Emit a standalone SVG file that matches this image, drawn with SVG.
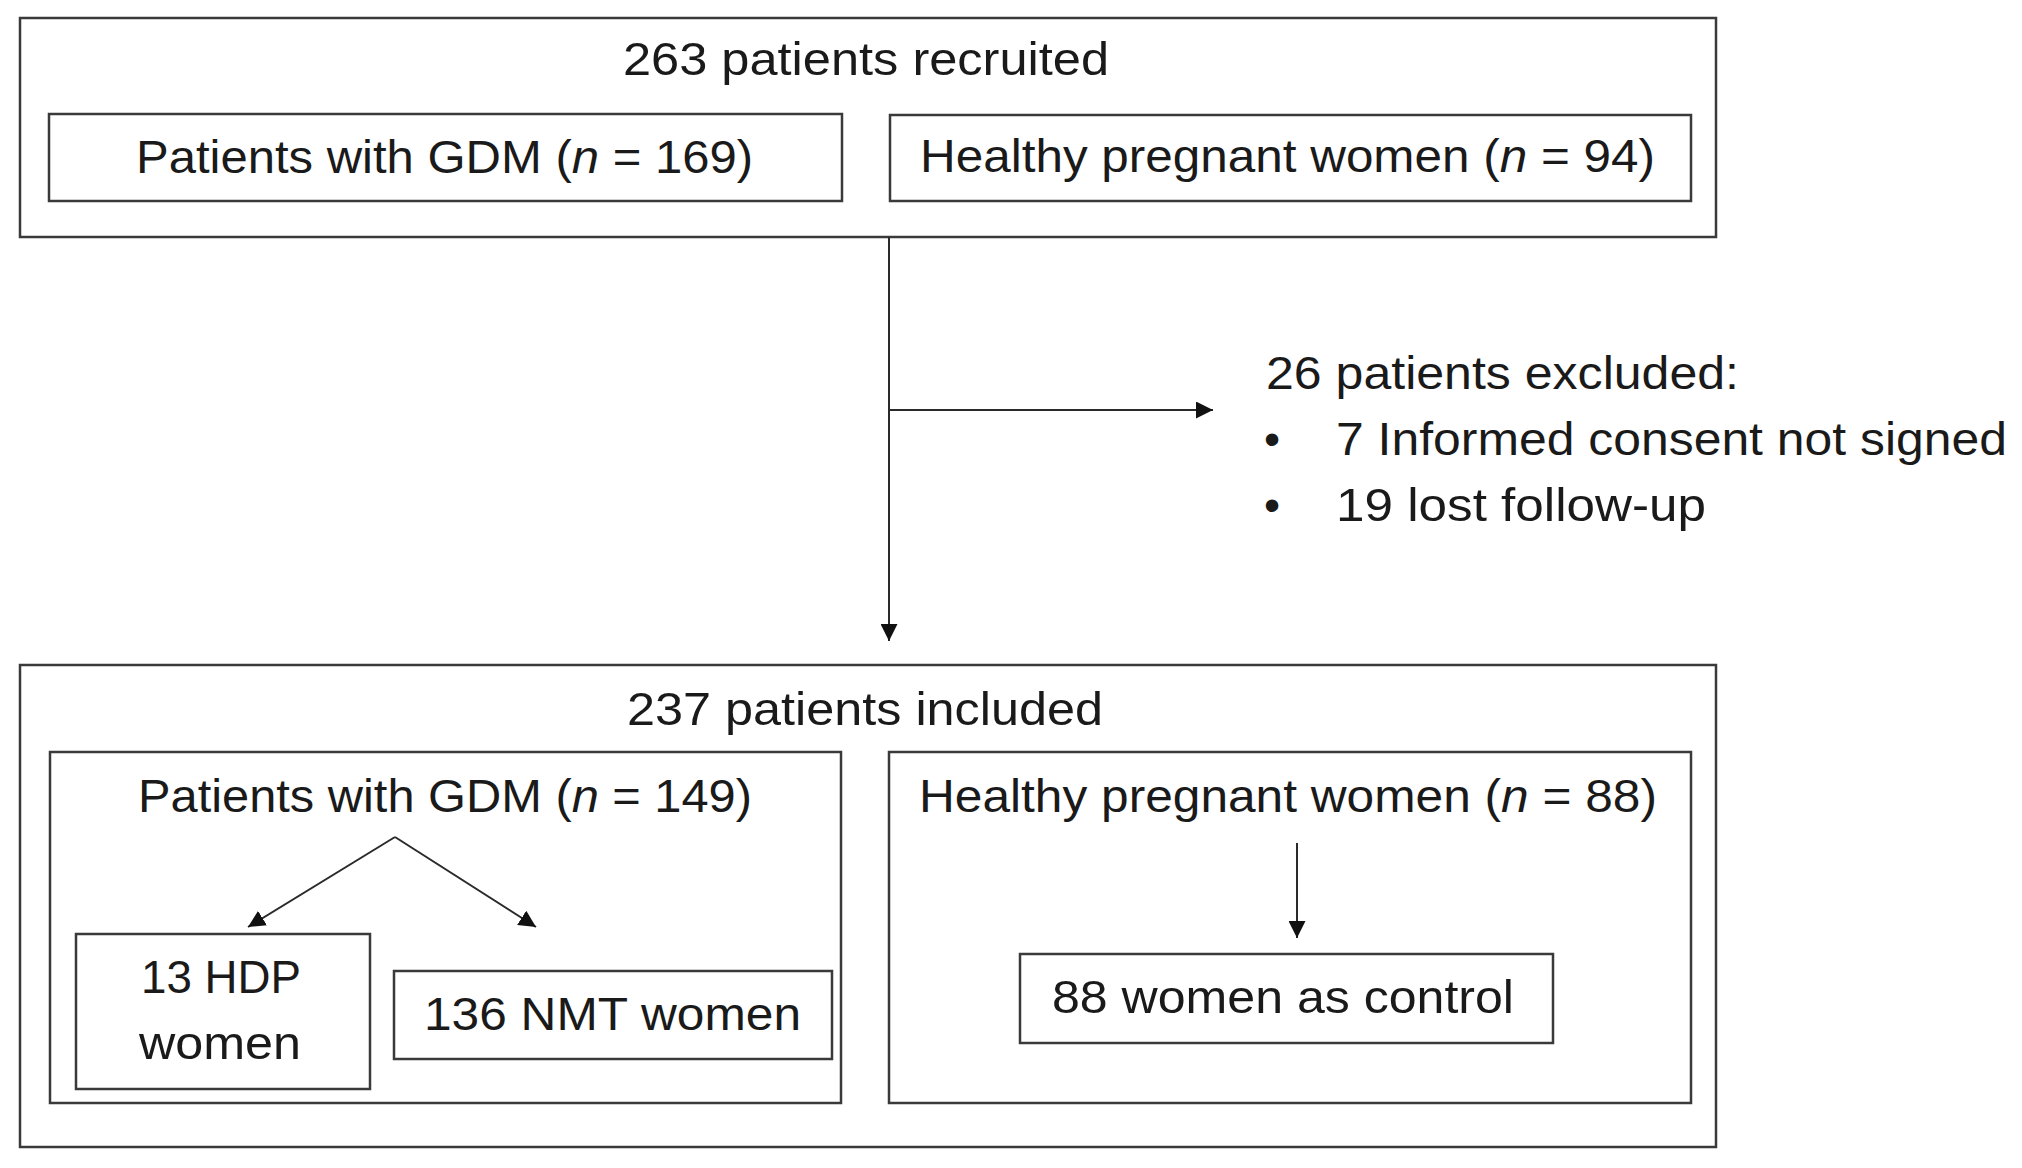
<svg xmlns="http://www.w3.org/2000/svg" width="2022" height="1168" viewBox="0 0 2022 1168">
<style>
.box{fill:#fff;stroke:#3a3a3a;stroke-width:2.5}
.t{font-family:"Liberation Sans",Arial,sans-serif;font-size:46px;fill:#1a1a1a}
.c{fill:none;stroke:#2a2a2a;stroke-width:2}
</style>
<defs>
<marker id="ah" viewBox="0 0 10 10" refX="10" refY="5" markerWidth="17" markerHeight="17" markerUnits="userSpaceOnUse" orient="auto">
<path d="M0,0 L10,5 L0,10 z" fill="#111"/>
</marker>
</defs>
<rect width="2022" height="1168" fill="#fff"/>
<g id="recruited">
<rect class="box" x="20" y="18" width="1696" height="219"/>
<text class="t" x="623" y="75" textLength="486" lengthAdjust="spacingAndGlyphs">263 patients recruited</text>
</g>
<g id="gdm169">
<rect class="box" x="49" y="114" width="793" height="87"/>
<text class="t" x="136" y="173" textLength="617" lengthAdjust="spacingAndGlyphs">Patients with GDM (<tspan font-style="italic">n</tspan> = 169)</text>
</g>
<g id="healthy94">
<rect class="box" x="890" y="115" width="801" height="86"/>
<text class="t" x="920" y="172" textLength="735" lengthAdjust="spacingAndGlyphs">Healthy pregnant women (<tspan font-style="italic">n</tspan> = 94)</text>
</g>
<g id="excluded">
<text class="t" x="1266" y="389" textLength="473" lengthAdjust="spacingAndGlyphs">26 patients excluded:</text>
<text class="t" x="1264" y="455">•</text>
<text class="t" x="1336" y="455" textLength="671" lengthAdjust="spacingAndGlyphs">7 Informed consent not signed</text>
<text class="t" x="1264" y="521">•</text>
<text class="t" x="1336" y="521" textLength="370" lengthAdjust="spacingAndGlyphs">19 lost follow-up</text>
</g>
<g id="included">
<rect class="box" x="20" y="665" width="1696" height="482"/>
<text class="t" x="627" y="725" textLength="476" lengthAdjust="spacingAndGlyphs">237 patients included</text>
</g>
<g id="gdm149">
<rect class="box" x="50" y="752" width="791" height="351"/>
<text class="t" x="138" y="812" textLength="614" lengthAdjust="spacingAndGlyphs">Patients with GDM (<tspan font-style="italic">n</tspan> = 149)</text>
</g>
<g id="healthy88">
<rect class="box" x="889" y="752" width="802" height="351"/>
<text class="t" x="919" y="812" textLength="738" lengthAdjust="spacingAndGlyphs">Healthy pregnant women (<tspan font-style="italic">n</tspan> = 88)</text>
</g>
<g id="hdp">
<rect class="box" x="76" y="934" width="294" height="155"/>
<text class="t" x="141" y="993" textLength="160" lengthAdjust="spacingAndGlyphs">13 HDP</text>
<text class="t" x="139" y="1059" textLength="162" lengthAdjust="spacingAndGlyphs">women</text>
</g>
<g id="nmt">
<rect class="box" x="394" y="971" width="438" height="88"/>
<text class="t" x="424" y="1030" textLength="377" lengthAdjust="spacingAndGlyphs">136 NMT women</text>
</g>
<g id="control">
<rect class="box" x="1020" y="954" width="533" height="89"/>
<text class="t" x="1052" y="1013" textLength="462" lengthAdjust="spacingAndGlyphs">88 women as control</text>
</g>
<g id="connectors">
<line class="c" x1="889" y1="237" x2="889" y2="641" marker-end="url(#ah)"/>
<line class="c" x1="889" y1="410" x2="1213" y2="410" marker-end="url(#ah)"/>
<line class="c" x1="395" y1="837" x2="248" y2="927" marker-end="url(#ah)"/>
<line class="c" x1="395" y1="837" x2="536" y2="927" marker-end="url(#ah)"/>
<line class="c" x1="1297" y1="843" x2="1297" y2="938" marker-end="url(#ah)"/>
</g>
</svg>
